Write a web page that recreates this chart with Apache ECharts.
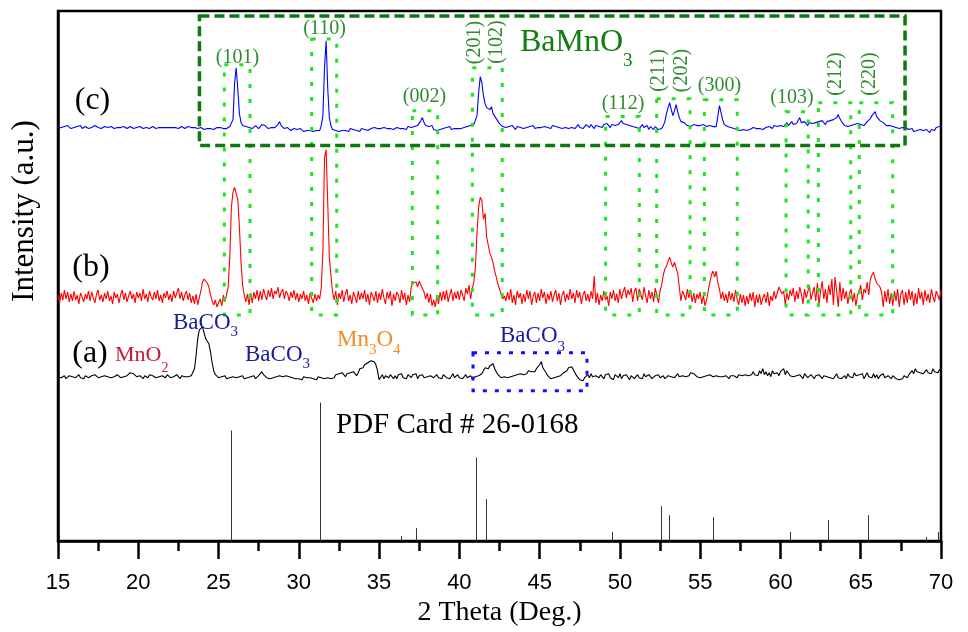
<!DOCTYPE html>
<html>
<head>
<meta charset="utf-8">
<script src="https://cdn.jsdelivr.net/npm/echarts@6/dist/echarts.min.js"></script>
<style>
html,body{margin:0;padding:0;background:#fff;}
#chart{width:968px;height:632px;}
</style>
</head>
<body>
<div id="chart"></div>
<script>
// 2-theta sampling of the measured patterns
const thetaStart = 15;
const thetaStep = 0.1;

// (c) pattern, intensity above its own baseline (a.u.), 15.0 .. 70.0 deg
const patternC = [
  0,1,0,-1,1,0,2,0,-1,1,
  0,-1,1,0,2,-1,0,1,0,-1,
  1,0,-1,2,0,0,1,-1,0,1,
  2,0,-1,1,0,-1,1,0,2,0,
  -1,1,0,-1,0,1,0,-1,1,0,
  2,1,0,-1,1,0,1,-1,0,1,
  0,-1,1,0,-1,0,1,0,-1,0,
  1,0,-1,0,1,-1,0,1,0,-1,
  0,1,-1,0,-1,0,1,-1,-2,0,
  -1,-2,0,-1,-2,-1,0,-2,-1,0,
  -1,0,-2,-1,0,-1,0,1,3,8,
  45,60,38,14,5,2,0,1,-1,0,
  1,-1,0,2,0,-1,1,3,5,2,
  0,-1,1,0,-2,0,1,3,6,2,
  0,-1,-2,0,-1,-3,-2,-1,-3,-2,
  -3,-1,-2,-4,-2,-3,-1,-3,-2,-4,
  -2,-3,-1,-3,2,12,60,87,40,10,
  2,-2,-1,-3,-2,-4,-2,-3,-1,-3,
  -2,-4,-1,-3,-2,-1,-3,-2,-4,-1,
  -3,-2,-1,-3,-2,-1,-2,0,-2,-1,
  -3,-1,-2,0,-2,-1,-3,-1,0,-2,
  -1,0,-2,-1,1,-1,0,-2,1,0,
  0,-1,1,0,2,3,7,10,5,2,
  4,1,-1,2,-2,0,-3,-1,-2,0,
  -1,-2,0,-1,1,-2,0,-1,0,-1,
  0,-1,1,0,-1,1,0,2,1,3,
  5,12,35,51,45,32,24,20,22,18,
  21,14,12,9,8,4,3,1,2,0,
  -2,1,-1,2,0,-2,1,-1,0,2,
  -1,1,0,-2,1,0,2,-1,1,0,
  2,0,-1,1,3,0,1,-1,2,0,
  1,3,0,2,-1,1,0,2,-1,1,
  0,2,-1,1,3,0,2,-1,1,3,
  2,0,3,1,-1,2,4,1,3,0,
  3,1,4,2,0,3,5,2,4,3,
  5,7,4,6,3,5,2,4,1,3,
  0,2,-1,1,3,0,-1,2,-2,1,
  0,-2,1,-1,-2,0,-1,2,6,14,
  20,25,18,12,17,23,16,10,6,4,
  5,3,2,3,1,2,3,1,2,3,
  2,1,3,2,1,3,2,0,1,2,
  1,3,22,15,8,3,2,1,3,0,
  1,-1,0,-2,-1,-3,-1,-2,0,-3,
  -1,-2,-3,0,-2,-1,-3,-1,0,-2,
  -1,0,-2,1,0,-1,2,0,1,3,
  2,4,1,3,5,2,4,6,3,5,
  4,7,10,5,3,6,4,2,5,3,
  4,2,5,3,6,4,7,5,3,6,
  4,7,5,8,6,10,13,9,6,4,
  2,3,1,0,2,1,3,2,4,6,
  3,5,2,4,6,7,9,12,14,16,
  11,10,7,8,5,3,2,1,2,0,
  1,-1,0,2,-1,1,0,-2,0,-1,
  -2,-3,-1,-4,-2,-3,-5,-2,-4,-3,
  -4,-2,-3,-5,-2,-1,-3,0,-1,1,
  2
];

// (b) pattern
const patternB = [
  2,-6,4,-3,7,-2,5,-5,3,-4,
  6,-3,2,-7,4,0,-5,3,-2,6,
  -4,5,-1,-6,3,7,-3,2,-5,4,
  -2,6,-4,1,-7,5,-1,3,-6,2,
  7,-3,4,-5,1,6,-2,3,-6,5,
  -1,4,-4,8,-2,3,-5,6,0,-3,
  5,-2,7,-4,2,-6,4,-1,6,-3,
  3,-5,6,-1,4,9,-2,5,-4,2,
  6,-3,4,-6,1,-7,3,-8,-10,6,
  15,18,20,14,10,2,-4,-8,-3,-10,
  -6,-2,-9,2,-5,-3,10,40,90,105,
  110,108,98,70,35,12,2,-5,3,-8,
  4,-6,5,-2,7,-4,6,-3,8,2,
  -3,7,0,9,-2,6,3,10,-1,5,
  8,-2,6,3,-4,5,-1,7,-3,4,
  -5,3,-2,6,-4,2,-7,4,-1,-6,
  3,-4,2,-2,10,45,140,148,95,40,
  22,5,-3,6,-8,4,-2,7,-5,3,
  8,-4,2,-7,5,0,-6,6,-3,4,
  -2,7,-5,3,-8,5,1,-4,6,-6,
  4,-3,8,-1,-7,5,-2,6,-9,3,
  -4,5,2,-6,7,-3,4,-8,2,-5,
  10,14,12,15,10,16,12,14,5,-2,
  4,-6,3,-9,-3,-10,2,-7,5,-4,
  6,-3,7,-5,2,8,-4,5,-2,6,
  -3,7,2,-4,9,3,12,-2,8,15,
  30,65,90,100,97,78,84,60,52,44,
  40,34,26,20,13,15,3,-2,1,-4,
  5,-3,8,-6,2,-8,6,-1,4,-7,
  3,-5,7,-2,6,-8,1,5,-6,4,
  -4,8,-1,5,-7,3,-3,6,-5,2,
  7,-4,4,-8,2,6,-5,3,-3,8,
  -2,4,-6,7,-1,5,-7,2,6,-4,
  3,-5,6,-2,21,-6,4,-8,2,-4,
  6,-3,1,-9,5,-2,7,-4,3,-6,
  8,-2,5,10,-1,7,2,9,-5,6,
  9,-4,8,3,-3,10,1,-6,7,-2,
  5,-5,9,2,-6,6,12,22,28,31,
  36,40,34,30,35,29,24,10,-4,6,
  2,-3,8,-1,7,-5,4,-6,3,-2,
  5,-7,2,-9,-3,6,15,22,26,20,
  26,14,8,-2,5,-4,3,-6,6,-3,
  4,-5,7,-2,-8,3,-6,2,-9,1,
  -7,4,-4,5,-10,2,-6,3,-8,-1,
  3,-6,5,-9,1,-4,6,-2,4,10,
  8,3,6,-8,4,-3,7,1,9,-5,
  6,-2,10,3,-7,8,-1,5,12,-3,
  4,10,-4,14,-8,6,16,-2,8,-6,
  12,2,18,-8,20,6,-10,15,-4,9,
  -2,6,-7,3,8,-5,4,-9,2,5,
  12,-3,8,4,15,2,18,22,25,18,
  14,16,10,5,-10,6,-5,8,-7,4,
  -9,6,-4,8,-10,3,7,-8,5,-6,
  8,-3,6,-9,4,-7,9,-2,5,-8,
  7,-4,3,-6,8,0,-5,6,2,-3,
  7
];

// (a) pattern
const patternA = [
  0,1,-1,0,1,-2,0,1,-1,0,
  1,-1,0,2,-1,0,-2,1,0,-1,
  0,1,-1,2,0,-1,1,0,-2,1,
  -1,0,2,-1,1,0,-1,2,0,-1,
  1,0,-1,1,2,4,6,3,1,0,
  -1,1,0,-2,1,0,-1,2,0,1,
  0,-1,1,0,-2,1,0,-1,2,0,
  -1,1,0,-1,2,0,-2,1,-1,0,
  1,0,-1,1,1,8,21,38,47,49,
  50,44,38,36,33,25,14,6,2,0,
  -1,-2,0,-1,1,-2,0,-1,-2,0,
  1,-1,-2,0,-1,1,-2,0,-1,1,
  0,-1,1,-2,0,1,3,5,2,0,
  -1,1,-2,0,-1,1,0,-2,1,-1,
  0,-2,1,-1,0,-2,-1,1,-2,0,
  -2,-1,-3,0,-2,-1,-3,-1,0,-2,
  -1,-3,0,-2,-1,-3,-2,0,-1,-3,
  -2,0,-1,2,0,3,1,4,2,0,
  3,1,4,2,5,3,1,4,8,10,
  9,12,11,14,13,16,18,15,12,6,
  -3,-1,2,-2,1,3,-1,2,0,-2,
  1,-2,2,0,3,-1,1,-2,2,0,
  -1,2,0,3,-2,1,0,2,-1,1,
  0,-2,1,3,-1,0,2,-1,1,-2,
  2,0,-1,1,-2,0,3,-1,0,2,
  -1,1,-2,0,2,-1,0,1,-2,-1,
  0,-2,1,2,3,6,9,10,8,11,
  12,13,8,5,2,0,-1,-2,0,1,
  -1,1,0,2,1,3,2,4,3,5,
  2,4,3,6,4,5,7,5,8,10,
  12,15,9,8,4,1,-1,-2,0,-1,
  1,0,2,1,3,4,3,6,9,11,
  10,8,4,1,-1,-3,-2,-4,-1,1,
  2,-1,3,0,-2,1,3,-1,2,0,
  -2,2,0,3,-1,1,-3,2,0,-1,
  3,-2,1,-1,2,0,-3,1,3,-2,
  0,2,-1,1,-2,3,0,-1,2,1,
  -2,0,1,-1,2,-1,0,1,-2,0,
  1,-1,0,2,-1,1,3,0,2,1,
  3,0,2,1,4,2,3,1,0,2,
  -1,1,0,2,1,3,2,1,0,-1,
  1,-1,0,2,0,-1,1,0,-2,1,
  -1,1,0,-1,2,0,1,3,2,4,
  1,3,2,5,2,4,1,6,3,8,
  2,5,1,4,0,6,3,2,4,1,
  5,3,8,2,6,4,1,3,0,2,
  1,-1,2,0,-2,3,1,-1,0,2,
  0,-2,1,-1,2,0,-2,1,3,0,
  2,-1,1,-2,0,3,-1,1,-2,0,
  1,-2,3,0,2,-1,4,1,-1,2,
  0,3,-2,1,4,0,2,-1,3,-1,
  2,-2,1,0,3,-1,-2,1,0,-2,
  1,-1,-2,0,-3,-1,-2,1,0,-1,
  2,4,6,3,8,5,7,4,6,3,
  5,7,4,6,3,8,5,6,4,7,
  6
];

// vertical offsets that stack the three patterns
const offsetC = 415;
const offsetB = 245;
const offsetA = 165;

// reference card PDF # 26-0168 (BaMnO3): line positions and relative intensities
const pdfTheta = [25.78, 31.34, 36.36, 37.30, 41.04, 41.68, 49.49, 52.56, 53.06, 55.82, 60.59, 62.96, 65.45, 69.07, 69.81];
const pdfIntensity = [111, 139, 5, 13, 84, 42, 9, 35, 26, 24, 9, 21, 26, 4, 9];

// x-axis ticks
const xMin = 15, xMax = 70, xTickStep = 5;

// BaMnO3 reflection windows: [from, to] in 2-theta and the top of each window
const reflectionFrom = [25.36, 30.80, 37.07, 40.81, 49.11, 52.29, 55.26, 60.35, 62.36, 64.91];
const reflectionTo   = [26.96, 32.36, 38.65, 42.67, 51.21, 54.37, 57.31, 61.73, 64.38, 66.99];
const reflectionTop  = [478, 504, 432, 475, 426, 444, 443, 431, 440, 440];
const reflectionBottom = 227;

// the BaMnO3 region of pattern (c) and the BaCO3 group of pattern (a)
const phaseRegion = [23.81, 67.76, 397, 527];
const carbonateRegion = [40.85, 47.95, 151, 189];

function toSeries(values, offset) {
  return values.map((v, i) => [+(thetaStart + i * thetaStep).toFixed(2), offset + v]);
}

const chart = echarts.init(document.getElementById('chart'), null, { renderer: 'canvas' });

const SERIF = '"Liberation Serif", "Times New Roman", serif';
const GREEN_LABEL = '#2e8b2e';

// --- text annotations (screen layout) ---
const measureCtx = document.createElement('canvas').getContext('2d');
function textWidth(str, size) {
  measureCtx.font = size + 'px ' + SERIF;
  return measureCtx.measureText(str).width;
}
const graphics = [];
function plainLabel(text, cx, cy, size, color, rotate) {
  graphics.push({
    type: 'text', x: cx, y: cy, rotation: rotate ? Math.PI / 2 : 0, z: 100,
    style: { text: text, font: size + 'px ' + SERIF, fill: color, align: 'center', verticalAlign: 'middle' }
  });
}
// chemical formula: parts are [text, isSubscript]
function formulaLabel(parts, left, baseline, size, subSize, subDrop, color) {
  let x = left;
  parts.forEach(([t, sub]) => {
    const fs = sub ? subSize : size;
    const base = sub ? baseline + subDrop : baseline;
    graphics.push({
      type: 'text', x: x, y: base - 0.32 * fs, z: 100,
      style: { text: t, font: fs + 'px ' + SERIF, fill: color, align: 'left', verticalAlign: 'middle' }
    });
    x += textWidth(t, fs);
  });
}

// y-axis title
plainLabel('Intensity (a.u.)', 25, 211, 31, '#000', true);

plainLabel('(c)', 92.5, 101, 32, '#000');
plainLabel('(b)', 91, 268, 32, '#000');
plainLabel('(a)', 90, 354, 32, '#000');

plainLabel('(101)', 237.5, 57.5, 20, GREEN_LABEL);
plainLabel('(110)', 324.5, 29, 20, GREEN_LABEL);
plainLabel('(002)', 424.5, 97, 20, GREEN_LABEL);
plainLabel('(201)', 475, 42.5, 20, GREEN_LABEL, true);
plainLabel('(102)', 496.5, 42, 20, GREEN_LABEL, true);
plainLabel('(112)', 623, 104, 20, GREEN_LABEL);
plainLabel('(211)', 658.5, 70.5, 20, GREEN_LABEL, true);
plainLabel('(202)', 682, 70.5, 20, GREEN_LABEL, true);
plainLabel('(300)', 719.5, 86, 20, GREEN_LABEL);
plainLabel('(103)', 792, 98, 20, GREEN_LABEL);
plainLabel('(212)', 835.5, 74, 20, GREEN_LABEL, true);
plainLabel('(220)', 870, 74, 20, GREEN_LABEL, true);

formulaLabel([['BaMnO', 0], ['3', 1]], 520, 53, 32, 19, 14, '#0f7f0f');
formulaLabel([['MnO', 0], ['2', 1]], 115, 362, 22, 14, 11, '#c8173a');
formulaLabel([['BaCO', 0], ['3', 1]], 173, 330, 23, 15, 7, '#1a1a9e');
formulaLabel([['BaCO', 0], ['3', 1]], 245, 362, 23, 15, 7, '#1a1a9e');
formulaLabel([['Mn', 0], ['3', 1], ['O', 0], ['4', 1]], 337, 347, 23, 15, 8, '#f58c22');
formulaLabel([['BaCO', 0], ['3', 1]], 500, 343, 23, 15, 9, '#1a1a9e');

graphics.push({
  type: 'text', x: 336, y: 435 - 0.32 * 29, z: 100,
  style: { text: 'PDF Card # 26-0168', font: '29px ' + SERIF, fill: '#000', align: 'left', verticalAlign: 'middle' }
});

// --- data-space boxes ---
function boxRenderer(stroke, width, dash) {
  return function (params, api) {
    const p1 = api.coord([api.value(0), api.value(3)]);
    const p2 = api.coord([api.value(1), api.value(2)]);
    return {
      type: 'rect',
      shape: { x: p1[0], y: p1[1], width: p2[0] - p1[0], height: p2[1] - p1[1] },
      style: { fill: 'none', stroke: stroke, lineWidth: width, lineDash: dash }
    };
  };
}

const reflectionBoxes = reflectionFrom.map((f, i) => [f, reflectionTo[i], reflectionBottom, reflectionTop[i]]);

const option = {
  animation: false,
  backgroundColor: '#fff',
  grid: {
    left: 58, top: 11, width: 883, height: 532,
    show: true, borderColor: '#000', borderWidth: 2.5, backgroundColor: 'transparent'
  },
  xAxis: {
    type: 'value',
    min: xMin, max: xMax, interval: xTickStep,
    name: '2 Theta (Deg.)',
    nameLocation: 'middle',
    nameGap: 57,
    nameTextStyle: { fontFamily: SERIF, fontSize: 28, color: '#000' },
    axisLine: { show: true, onZero: false, lineStyle: { color: '#000', width: 2.5 } },
    axisTick: { show: true, inside: false, length: 18, lineStyle: { color: '#000', width: 2.5 } },
    minorTick: { show: true, splitNumber: 2, length: 10, lineStyle: { color: '#000', width: 2.5 } },
    axisLabel: { margin: 31, fontFamily: '"Liberation Sans", Arial, sans-serif', fontSize: 22, color: '#000' },
    splitLine: { show: false },
    minorSplitLine: { show: false }
  },
  yAxis: {
    type: 'value',
    min: 0, max: 532,
    axisLine: { show: true, lineStyle: { color: '#000', width: 2.5 } },
    axisTick: { show: false },
    axisLabel: { show: false },
    splitLine: { show: false }
  },
  graphic: graphics,
  series: [
    {
      name: 'PDF 26-0168', type: 'custom', z: 2,
      data: pdfTheta.map((t, i) => [t, pdfIntensity[i]]),
      renderItem: function (params, api) {
        const top = api.coord([api.value(0), api.value(1)]);
        const base = api.coord([api.value(0), 0]);
        return {
          type: 'line',
          shape: { x1: Math.round(top[0]) + 0.5, y1: top[1], x2: Math.round(base[0]) + 0.5, y2: base[1] },
          style: { stroke: '#333', lineWidth: 1 }
        };
      }
    },
    {
      name: '(a)', type: 'line', data: toSeries(patternA, offsetA), showSymbol: false,
      lineStyle: { color: '#000', width: 1.1 }, z: 3
    },
    {
      name: '(b)', type: 'line', data: toSeries(patternB, offsetB), showSymbol: false,
      lineStyle: { color: '#ff0000', width: 1.1 }, z: 3
    },
    {
      name: '(c)', type: 'line', data: toSeries(patternC, offsetC), showSymbol: false,
      lineStyle: { color: '#0000ff', width: 1.1 }, z: 3
    },
    {
      name: 'reflections', type: 'custom', z: 5, clip: false,
      encode: { x: [0, 1], y: [2, 3] },
      data: reflectionBoxes,
      renderItem: boxRenderer('#1ee61e', 3, [4, 11])
    },
    {
      name: 'BaMnO3 region', type: 'custom', z: 6, clip: false,
      encode: { x: [0, 1], y: [2, 3] },
      data: [phaseRegion],
      renderItem: boxRenderer('#0e7a0e', 3.5, [10, 5])
    },
    {
      name: 'BaCO3 group', type: 'custom', z: 6, clip: false,
      encode: { x: [0, 1], y: [2, 3] },
      data: [carbonateRegion],
      renderItem: boxRenderer('#1010ff', 3, [4, 8])
    }
  ]
};

chart.setOption(option);
</script>
</body>
</html>
